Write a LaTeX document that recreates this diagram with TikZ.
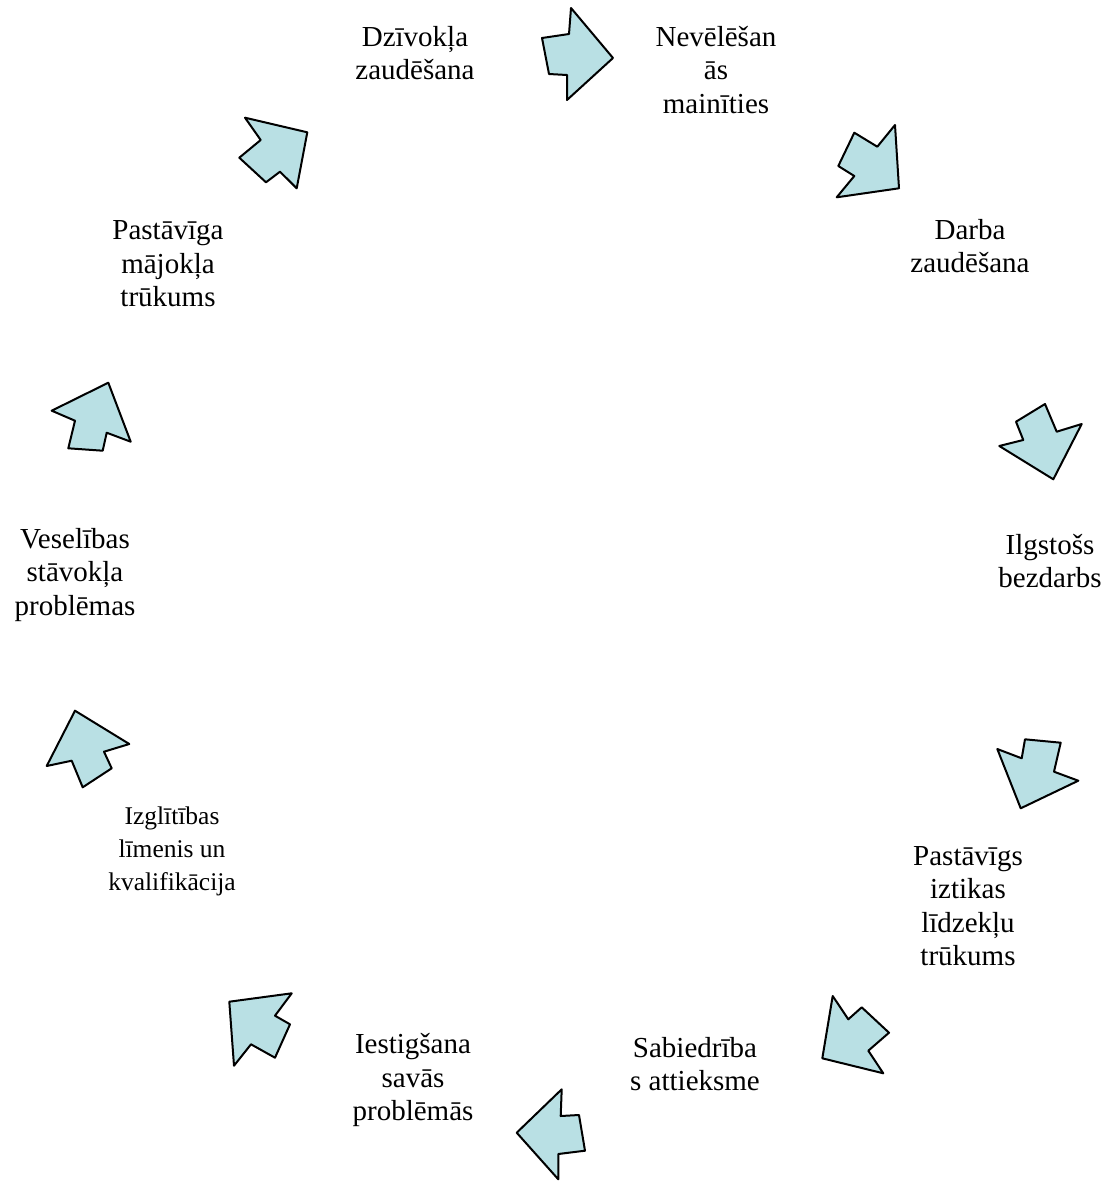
\documentclass[tikz,border=0pt]{standalone}
\usepackage{fontspec}
\setmainfont{Liberation Serif}
\definecolor{arrowfill}{RGB}{185,224,228}
\begin{document}
\begin{tikzpicture}[x=1pt,y=-1pt,
  blockarrow/.style={draw=black,fill=arrowfill,line width=2pt,line join=round},
  lbl/.style={align=center,inner sep=0pt,font=\fontsize{29}{33.5}\selectfont},
  lblsmall/.style={align=center,inner sep=0pt,font=\fontsize{25.5}{33}\selectfont}]
\useasboundingbox (0,0) rectangle (1119,1181);
% labels
\node[lbl] (t1) at (415,53) {Dzīvokļa\\zaudēšana};
\node[lbl] (t2) at (716,70) {Nevēlēšan\\ās\\mainīties};
\node[lbl] (t3) at (970,246) {Darba\\zaudēšana};
\node[lbl] (t4) at (1050,561) {Ilgstošs\\bezdarbs};
\node[lbl] (t5) at (968,906) {Pastāvīgs\\iztikas\\līdzekļu\\trūkums};
\node[lbl] (t6) at (695,1064) {Sabiedrība\\s attieksme};
\node[lbl] (t7) at (413,1080) {Iestigšana\\savās\\problēmās};
\node[lblsmall] (t8) at (172,851) {Izglītības\\līmenis un\\kvalifikācija};
\node[lbl] (t9) at (75,575) {Veselības\\stāvokļa\\problēmas};
\node[lbl] (t10) at (168,264) {Pastāvīga\\mājokļa\\trūkums};
% arrows
\draw[blockarrow] (542,38) -- (569,34) -- (571,8) -- (613,58) -- (567,100) -- (567,75) -- (549,74) -- cycle;
\draw[blockarrow] (854.3,132.7) -- (877.3,146.7) -- (895,125) -- (899,188.3) -- (836.7,197.3) -- (854.3,176) -- (838.3,166) -- cycle;
\draw[blockarrow] (1045,404) -- (1056.7,431.7) -- (1081.7,424) -- (1053.3,479.3) -- (999.3,446) -- (1023.3,440) -- (1016,421.7) -- cycle;
\draw[blockarrow] (1025,739.3) -- (1060.7,742.7) -- (1054,771.7) -- (1078.3,780.7) -- (1020.7,808.3) -- (997.3,749) -- (1021.7,758.3) -- cycle;
\draw[blockarrow] (832.7,996) -- (848.3,1019.3) -- (861.7,1007.3) -- (889,1032.7) -- (868.3,1050.7) -- (883.3,1073.3) -- (822.3,1058.3) -- cycle;
\draw[blockarrow] (561.7,1089.3) -- (560.7,1116) -- (579,1115) -- (585,1150.7) -- (558.3,1154) -- (558.3,1179.3) -- (516.7,1132.7) -- cycle;
\draw[blockarrow] (229.3,1001.7) -- (291.7,993.3) -- (275,1015.7) -- (290,1024.3) -- (275,1057.7) -- (251,1044.3) -- (234,1065.7) -- cycle;
\draw[blockarrow] (75,710.7) -- (129.3,744) -- (104,751.7) -- (111.7,768.3) -- (82.7,787.3) -- (71.7,760.7) -- (46.7,766) -- cycle;
\draw[blockarrow] (108.3,382.7) -- (130.7,441.7) -- (106.7,432.7) -- (102.7,450.7) -- (68.3,448.3) -- (75,420.7) -- (51.7,410.7) -- cycle;
\draw[blockarrow] (245,117.7) -- (307.3,132.3) -- (296.7,188.3) -- (280,171.7) -- (266,182.3) -- (239.3,157.7) -- (260.7,140) -- cycle;
\end{tikzpicture}
\end{document}
